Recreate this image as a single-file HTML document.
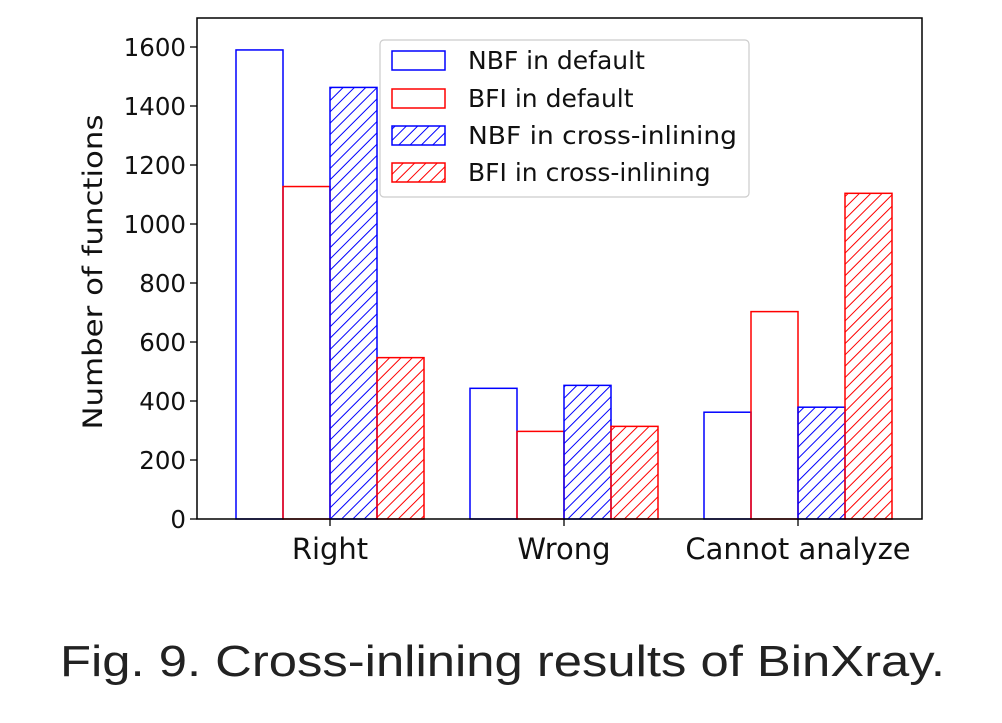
<!DOCTYPE html>
<html><head><meta charset="utf-8"><style>
body{margin:0;background:#fff;width:1002px;height:718px;overflow:hidden}
svg text{font-family:"DejaVu Sans","Liberation Sans",sans-serif;fill:#111}
</style></head><body>
<svg width="1002" height="718">
<defs>
<pattern id="hb" patternUnits="userSpaceOnUse" width="8" height="8" patternTransform="rotate(45)"><line x1="0" y1="0" x2="0" y2="8" stroke="#00f" stroke-width="2"/></pattern>
<pattern id="hr" patternUnits="userSpaceOnUse" width="8" height="8" patternTransform="rotate(45)"><line x1="0" y1="0" x2="0" y2="8" stroke="#f00" stroke-width="2"/></pattern>
</defs>
<g id="plot"></g>
<rect x="197" y="18" width="725" height="501" fill="none" stroke="#000" stroke-width="1.5"/>
<text x="102" y="272" font-size="27" textLength="315" lengthAdjust="spacingAndGlyphs" text-anchor="middle" transform="rotate(-90 102 272)">Number of functions</text>
<g>
<rect x="380" y="40" width="369" height="157" rx="4" fill="#fff" stroke="#ccc" stroke-width="1.2"/>
<rect x="392" y="51" width="53" height="19" fill="none" stroke="#00f" stroke-width="1.5"/>
<text x="468" y="69" font-size="25">NBF in default</text>
<rect x="392" y="89" width="53" height="19" fill="none" stroke="#f00" stroke-width="1.5"/>
<text x="468" y="107" font-size="25">BFI in default</text>
<rect x="392" y="126" width="53" height="19" fill="url(#hb)" stroke="#00f" stroke-width="1.5"/>
<text x="468" y="144" font-size="25" textLength="269" lengthAdjust="spacingAndGlyphs">NBF in cross-inlining</text>
<rect x="392" y="163" width="53" height="19" fill="url(#hr)" stroke="#f00" stroke-width="1.5"/>
<text x="468" y="181" font-size="25">BFI in cross-inlining</text>
</g>
<text x="60" y="676" font-size="44" textLength="885" lengthAdjust="spacingAndGlyphs" style="font-family:'Liberation Sans',sans-serif;fill:#222">Fig. 9.  Cross-inlining results of BinXray.</text>
</svg>
<script>
const categories=["Right","Wrong","Cannot analyze"];
const nbfDefault=[1590,443,362];
const bfiDefault=[1127,297,703];
const nbfCross=[1463,453,379];
const bfiCross=[547,314,1104];
const yTicks=[0,200,400,600,800,1000,1200,1400,1600];
const NS="http://www.w3.org/2000/svg";
const g=document.getElementById('plot');
const y=v=>519-v*0.295;
const xc=i=>330+i*234;
const series=[[nbfDefault,'#00f',null,'nbf-default'],[bfiDefault,'#f00',null,'bfi-default'],[nbfCross,'#00f','url(#hb)','nbf-cross'],[bfiCross,'#f00','url(#hr)','bfi-cross']];
const bw=47;
series.forEach((s,k)=>{s[0].forEach((v,i)=>{
 const r=document.createElementNS(NS,'rect');
 const x=xc(i)-2*bw+k*bw;
 r.setAttribute('x',x);r.setAttribute('y',y(v));r.setAttribute('width',bw);r.setAttribute('height',519-y(v));
 r.setAttribute('fill',s[2]||'none');r.setAttribute('stroke',s[1]);r.setAttribute('stroke-width','1.5');
 
 
 g.appendChild(r);});});
yTicks.forEach(t=>{
 const l=document.createElementNS(NS,'line');
 l.setAttribute('x1',190);l.setAttribute('x2',197);l.setAttribute('y1',y(t));l.setAttribute('y2',y(t));l.setAttribute('stroke','#000');l.setAttribute('stroke-width','1.3');
 
 
 g.appendChild(l);
 const tx=document.createElementNS(NS,'text');
 tx.setAttribute('x',186);tx.setAttribute('y',y(t)+9);tx.setAttribute('text-anchor','end');tx.setAttribute('font-size','24.5');tx.textContent=t;
 
 
 g.appendChild(tx);});
categories.forEach((c,i)=>{
 const l=document.createElementNS(NS,'line');
 l.setAttribute('x1',xc(i));l.setAttribute('x2',xc(i));l.setAttribute('y1',519);l.setAttribute('y2',526);l.setAttribute('stroke','#000');l.setAttribute('stroke-width','1.3');
 
 
 g.appendChild(l);
 const tx=document.createElementNS(NS,'text');
 tx.setAttribute('x',xc(i));tx.setAttribute('y',559);tx.setAttribute('text-anchor','middle');tx.setAttribute('font-size','29');tx.textContent=c;
 
 
 g.appendChild(tx);});
</script>
</body></html>
